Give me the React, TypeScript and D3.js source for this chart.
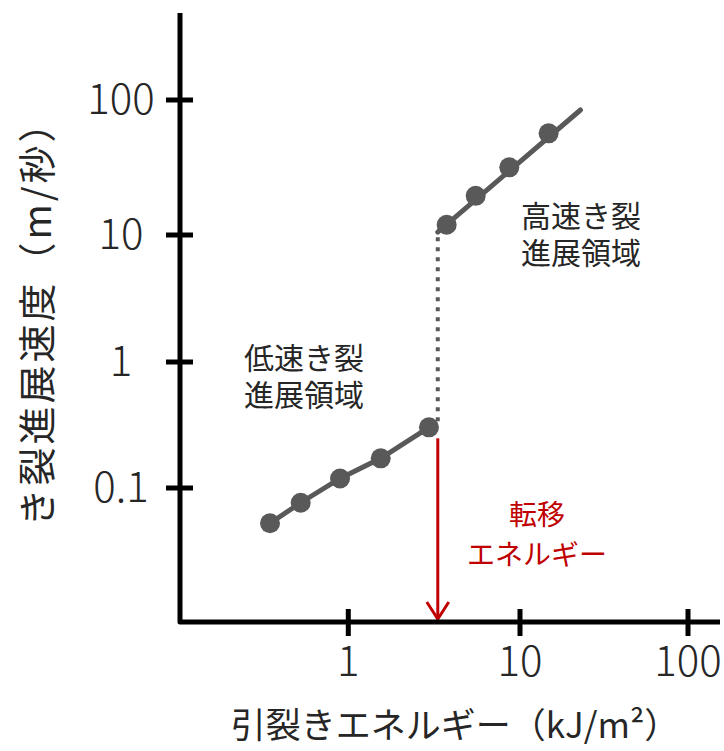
import React from 'react';
import * as d3 from 'd3';

// ---- data ----
const xTickValues = [1, 10, 100];
const xTickLabels = ['1', '10', '100'];
const yTickValues = [0.1, 1, 10, 100];
const yTickLabels = ['0.1', '1', '10', '100'];

const lowEnergy = [0.35, 0.528, 0.895, 1.545, 2.95];
const lowSpeed = [0.0525, 0.0764, 0.119, 0.172, 0.303];

const highEnergy = [3.74, 5.52, 8.66, 14.8];
const highSpeed = [11.9, 19.5, 31.7, 56.6];

const highFitEnergy = [3.32, 22.9];
const highFitSpeed = [10.5, 84.3];

const transitionEnergy = 3.32;

const xTitle = '引裂きエネルギー（kJ/m²）';
const yTitle = 'き裂進展速度（m/秒）';
const lowLabel = ['低速き裂', '進展領域'];
const highLabel = ['高速き裂', '進展領域'];
const transitionLabel = ['転移', 'エネルギー'];

// ---- layout ----
const W = 724;
const H = 751;
const originX = 180;
const originY = 622;
const axisTop = 13;
const axisRight = 720;
const FONT = '"Noto Sans CJK JP", "Noto Sans", sans-serif';
const GRAY = '#595959';
const RED = '#c00000';
const TEXT = '#262626';

export default function App() {
  const x = d3.scaleLog().domain([1, 10, 100]).range([348.3, 520, 688]);
  const y = d3.scaleLog().domain([0.1, 1, 10, 100]).range([488, 362, 235, 100]);

  const line = d3
    .line<[number, number]>()
    .x((d) => x(d[0]))
    .y((d) => y(d[1]));

  const lowPts: [number, number][] = lowEnergy.map((e, i) => [e, lowSpeed[i]]);
  const highPts: [number, number][] = highEnergy.map((e, i) => [e, highSpeed[i]]);
  const highFit: [number, number][] = highFitEnergy.map((e, i) => [e, highFitSpeed[i]]);

  const tx = x(transitionEnergy);
  const lastLowY = y(lowSpeed[lowSpeed.length - 1]);
  const r = 10;
  const arrowStart = lastLowY + r + 1;
  const arrowEnd = originY - 3;

  const block = (
    lines: string[],
    cx: number,
    cy: number,
    gap: number,
    size: number,
    color: string,
    key: string
  ) => (
    <text
      key={key}
      x={cx}
      y={cy}
      textAnchor="middle"
      fontFamily={FONT}
      fontSize={size}
      fill={color}
    >
      {lines.map((t, i) => (
        <tspan key={i} x={cx} dy={i === 0 ? size * 0.35 : gap}>
          {t}
        </tspan>
      ))}
    </text>
  );

  return (
    <svg
      width={W}
      height={H}
      viewBox={`0 0 ${W} ${H}`}
      style={{ position: 'absolute', left: 0, top: 0, background: '#fff' }}
    >
      {/* dotted vertical transition line */}
      <line
        x1={tx}
        x2={tx}
        y1={lastLowY - 6}
        y2={y(highFitSpeed[0]) + 4}
        stroke={GRAY}
        strokeWidth={4}
        strokeDasharray="4 6"
      />

      {/* low-speed line and points */}
      <path d={line(lowPts) || ''} fill="none" stroke={GRAY} strokeWidth={5} />
      {lowPts.map((p, i) => (
        <circle key={'l' + i} cx={x(p[0])} cy={y(p[1])} r={r} fill={GRAY} />
      ))}

      {/* high-speed line and points */}
      <path d={line(highFit) || ''} fill="none" stroke={GRAY} strokeWidth={5} strokeLinecap="round" />
      {highPts.map((p, i) => (
        <circle key={'h' + i} cx={x(p[0])} cy={y(p[1])} r={r} fill={GRAY} />
      ))}

      {/* red arrow */}
      <line x1={tx} x2={tx} y1={arrowStart} y2={arrowEnd} stroke={RED} strokeWidth={3} />
      <path
        d={`M${tx - 11},${arrowEnd - 17} L${tx},${arrowEnd} L${tx + 11},${arrowEnd - 17}`}
        fill="none"
        stroke={RED}
        strokeWidth={3}
      />

      {/* axes */}
      <path
        d={`M${originX},${axisTop} L${originX},${originY} L${axisRight},${originY}`}
        fill="none"
        stroke="#000"
        strokeWidth={5}
        strokeLinejoin="round"
      />
      {xTickValues.map((v, i) => (
        <g key={'xt' + i}>
          <line x1={x(v)} x2={x(v)} y1={originY - 13} y2={originY + 14} stroke="#000" strokeWidth={5} />
          <text
            x={x(v)}
            y={676}
            textAnchor="middle"
            fontFamily={FONT}
            fontWeight={300}
            fontSize={42}
            fill={TEXT}
          >
            {xTickLabels[i]}
          </text>
        </g>
      ))}
      {yTickValues.map((v, i) => (
        <g key={'yt' + i}>
          <line x1={originX - 14} x2={originX + 13} y1={y(v)} y2={y(v)} stroke="#000" strokeWidth={5} />
          <text
            x={121}
            y={y(v) + 14}
            textAnchor="middle"
            fontFamily={FONT}
            fontWeight={300}
            fontSize={42}
            fill={TEXT}
          >
            {yTickLabels[i]}
          </text>
        </g>
      ))}

      {/* axis titles */}
      <text x={455} y={738} textAnchor="middle" fontFamily={FONT} fontSize={35} fill={TEXT}>
        {xTitle}
      </text>
      <text
        transform="translate(34,314) rotate(-90)"
        textAnchor="middle"
        dominantBaseline="central"
        fontFamily={FONT}
        fontSize={38}
        letterSpacing={3}
        fill={TEXT}
      >
        {yTitle}
      </text>

      {/* region labels */}
      {block(lowLabel, 304, 358, 37.5, 30, TEXT, 'low')}
      {block(highLabel, 581, 216, 37.5, 30, TEXT, 'high')}
      {block(transitionLabel, 537, 515, 40, 28, RED, 'trans')}
    </svg>
  );
}
